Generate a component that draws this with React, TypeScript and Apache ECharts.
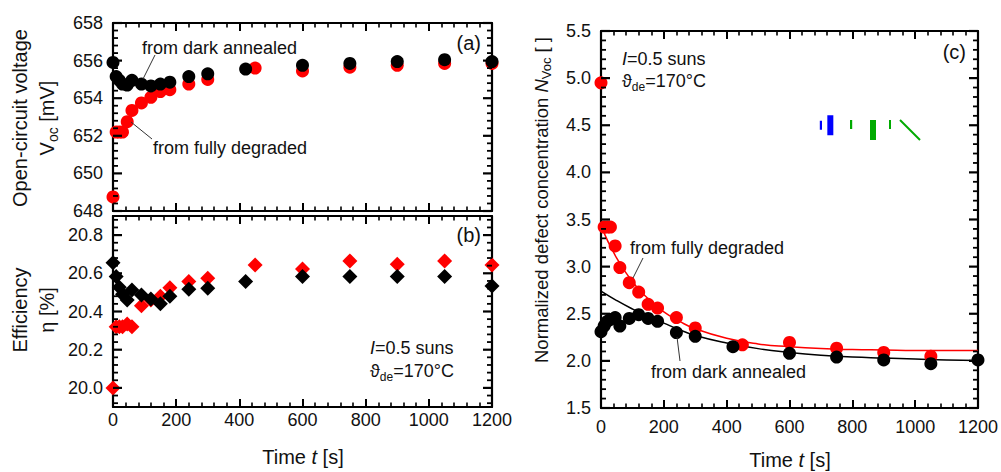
import React, { useEffect, useRef } from "react";
import * as echarts from "echarts";

// ---- data ----
const redTime = [0, 10, 20, 30, 45, 60, 90, 120, 150, 180, 240, 300, 450, 600, 750, 900, 1050, 1200];
const blackTime = [0, 10, 20, 30, 45, 60, 90, 120, 150, 180, 240, 300, 420, 600, 750, 900, 1050, 1200];

const redVoc = [648.75, 652.2, 652.2, 652.2, 652.75, 653.35, 653.75, 654.05, 654.35, 654.45, 654.75, 655.0, 655.6, 655.45, 655.65, 655.75, 655.85, 655.85];
const blackVoc = [655.9, 655.15, 654.95, 654.75, 654.7, 654.95, 654.75, 654.65, 654.75, 654.85, 655.15, 655.3, 655.55, 655.75, 655.85, 655.95, 656.05, 655.95];

const redEta = [20.0, 20.32, 20.32, 20.32, 20.335, 20.32, 20.43, 20.46, 20.48, 20.525, 20.557, 20.574, 20.644, 20.623, 20.665, 20.647, 20.665, 20.644];
const blackEta = [20.655, 20.583, 20.527, 20.49, 20.46, 20.513, 20.487, 20.465, 20.44, 20.48, 20.517, 20.522, 20.557, 20.583, 20.583, 20.583, 20.583, 20.534];

const redNTime = [0, 10, 20, 30, 45, 60, 90, 120, 150, 180, 240, 300, 450, 600, 750, 900, 1050];
const redN = [4.95, 3.42, 3.42, 3.42, 3.22, 2.99, 2.83, 2.73, 2.6, 2.56, 2.46, 2.35, 2.17, 2.195, 2.135, 2.09, 2.05];
const blackN = [2.31, 2.37, 2.42, 2.44, 2.46, 2.37, 2.45, 2.49, 2.45, 2.42, 2.3, 2.26, 2.15, 2.08, 2.04, 2.01, 1.97, 2.01];

const fitTime = [0, 50, 100, 150, 200, 250, 300, 400, 500, 600, 700, 800, 900, 1000, 1100, 1200];
const redFit = [3.43, 3.09, 2.84, 2.66, 2.52, 2.42, 2.34, 2.24, 2.18, 2.15, 2.13, 2.12, 2.115, 2.11, 2.11, 2.11];
const blackFit = [2.74, 2.64, 2.55, 2.47, 2.4, 2.33, 2.27, 2.19, 2.13, 2.09, 2.06, 2.04, 2.03, 2.02, 2.01, 2.005];

// axis ranges
const tRange = [0, 1200];
const vocRange = [648, 658];
const etaRange = [19.9, 20.9];
const nRange = [1.5, 5.5];
const etaLabels = [20.0, 20.2, 20.4, 20.6, 20.8];

const FONT = "Liberation Sans, Arial, sans-serif";
const TXT = "#111111";
const RED = "#ff0000";
const BLK = "#000000";

const zip = (xs: number[], ys: number[]) => xs.map((x, i) => [x, ys[i]]);

function steps(min: number, max: number, step: number, base: number) {
  const out: number[] = [];
  const k0 = Math.ceil((min - base) / step - 1e-6);
  for (let k = k0; base + k * step <= max + 1e-9; k++) out.push(Math.round((base + k * step) * 1e6) / 1e6);
  return out;
}
function isOn(v: number, step: number, base: number) {
  const r = (v - base) / step;
  return Math.abs(r - Math.round(r)) < 1e-6;
}

const axLine = () => ({ show: true, onZero: false, lineStyle: { color: "#000000", width: 2.2 } });

function xAxis(grid: number, position: string, showLabel: boolean, margin = 5) {
  return {
    type: "value",
    gridIndex: grid,
    position,
    min: tRange[0],
    max: tRange[1],
    interval: 200,
    axisLine: axLine(),
    axisTick: { show: true, inside: true, length: 8, lineStyle: { color: "#000", width: 2 } },
    minorTick: { show: true, splitNumber: 5, length: 4.5, lineStyle: { color: "#000", width: 1.6 } },
    axisLabel: { show: showLabel, fontSize: 18, fontFamily: FONT, color: TXT, margin, formatter: (v: number) => String(v) },
    splitLine: { show: false },
  };
}

function yAxis(grid: number, position: string, showLabel: boolean, r: number[], interval: number | undefined, fmt: (v: number) => string, custom?: number[]) {
  return {
    type: "value",
    gridIndex: grid,
    position,
    min: r[0],
    max: r[1],
    interval,
    axisLine: axLine(),
    axisTick: { show: false },
    minorTick: { show: false },
    axisLabel: { show: showLabel, customValues: custom, fontSize: 18, fontFamily: FONT, color: TXT, margin: 10, formatter: fmt },
    splitLine: { show: false },
  };
}

// tick marks drawn as thin rect symbols placed through the axes' own scales
const MAJ_LEN = 9;
const MIN_LEN = 5;
const MAJ_W = 2.2;
const MIN_W = 1.8;
function tickSeriesFor(xi: number, yi: number, xr: number[], yr: number[], yMaj: number, yMinStep: number, yBase: number) {
  const out: any[] = [];
  const ys = steps(yr[0], yr[1], yMinStep, yBase);
  const mk = (data: number[][], size: number[], offset: number[]) => ({
    type: "scatter",
    xAxisIndex: xi,
    yAxisIndex: yi,
    data,
    symbol: "rect",
    symbolSize: size,
    symbolOffset: offset,
    clip: false,
    z: 4,
    itemStyle: { color: "#000000", opacity: 1 },
    emphasis: { disabled: true },
  });
  [true, false].forEach((major) => {
    const len = major ? MAJ_LEN : MIN_LEN;
    const w = major ? MAJ_W : MIN_W;
    const yv = ys.filter((v) => isOn(v, yMaj, yBase) === major);
    out.push(mk(yv.map((v) => [xr[0], v]), [len, w], [len / 2, 0]));
    out.push(mk(yv.map((v) => [xr[1], v]), [len, w], [-len / 2, 0]));
  });
  return out;
}

const mkRich = (fs: number) => {
  const m = { fontSize: fs, fontFamily: FONT, fill: TXT, lineHeight: fs + 5 };
  const sfs = Math.round(fs * 0.68);
  return { m, i: { ...m, fontStyle: "italic" }, s: { fontSize: sfs, fontFamily: FONT, fill: TXT, verticalAlign: "bottom", lineHeight: sfs } };
};

function txt(x: number, y: number, text: string, opts: any = {}) {
  const fs = opts.fs || 18;
  return {
    type: "text",
    x,
    y,
    rotation: opts.rotation || 0,
    z: 10,
    style: {
      text,
      fontSize: fs,
      fontFamily: FONT,
      fill: TXT,
      align: opts.align || "left",
      verticalAlign: "middle",
      rich: mkRich(fs),
    },
  };
}

function leader(x1: number, y1: number, x2: number, y2: number) {
  return { type: "line", z: 10, shape: { x1, y1, x2, y2 }, style: { stroke: "#333", lineWidth: 1 } };
}

const pt = (color: string) => ({ color, opacity: 1 });

export default function App() {
  const ref = useRef<HTMLDivElement>(null);
  useEffect(() => {
    if (!ref.current) return;
    const chart = echarts.init(ref.current, undefined, { renderer: "svg" });
    const R = Math.PI / 2;
    chart.setOption({
      animation: false,
      backgroundColor: "#ffffff",
      grid: [
        { left: 113, top: 23, width: 379, height: 188 },
        { left: 113, top: 216, width: 379, height: 191 },
        { left: 601, top: 31, width: 379, height: 377 },
      ],
      xAxis: [
        xAxis(0, "bottom", false),
        xAxis(0, "top", false),
        xAxis(1, "bottom", true, 4),
        xAxis(1, "top", false),
        xAxis(2, "bottom", true, 10),
        xAxis(2, "top", false),
      ],
      yAxis: [
        yAxis(0, "left", true, vocRange, 2, (v: number) => String(v)),
        yAxis(0, "right", false, vocRange, 2, (v: number) => String(v)),
        yAxis(1, "left", true, etaRange, undefined, (v: number) => v.toFixed(1), etaLabels),
        yAxis(1, "right", false, etaRange, undefined, (v: number) => v.toFixed(1), etaLabels),
        yAxis(2, "left", true, nRange, 0.5, (v: number) => v.toFixed(1)),
        yAxis(2, "right", false, nRange, 0.5, (v: number) => v.toFixed(1)),
      ],
      series: [
        { type: "scatter", xAxisIndex: 0, yAxisIndex: 0, data: zip(redTime, redVoc), symbol: "circle", symbolSize: 13, itemStyle: pt(RED), z: 2 },
        { type: "scatter", xAxisIndex: 0, yAxisIndex: 0, data: zip(blackTime, blackVoc), symbol: "circle", symbolSize: 13, itemStyle: pt(BLK), z: 3 },
        { type: "scatter", xAxisIndex: 2, yAxisIndex: 2, data: zip(redTime, redEta), symbol: "diamond", symbolSize: 15, itemStyle: pt(RED), z: 2 },
        { type: "scatter", xAxisIndex: 2, yAxisIndex: 2, data: zip(blackTime, blackEta), symbol: "diamond", symbolSize: 15, itemStyle: pt(BLK), z: 3 },
        { type: "line", xAxisIndex: 4, yAxisIndex: 4, data: zip(fitTime, redFit), smooth: true, showSymbol: false, lineStyle: { color: RED, width: 1.5 }, z: 1 },
        { type: "line", xAxisIndex: 4, yAxisIndex: 4, data: zip(fitTime, blackFit), smooth: true, showSymbol: false, lineStyle: { color: BLK, width: 1.5 }, z: 1 },
        { type: "scatter", xAxisIndex: 4, yAxisIndex: 4, data: zip(redNTime, redN), symbol: "circle", symbolSize: 13, itemStyle: pt(RED), z: 2 },
        { type: "scatter", xAxisIndex: 4, yAxisIndex: 4, data: zip(blackTime, blackN), symbol: "circle", symbolSize: 13, itemStyle: pt(BLK), z: 3 },
        ...tickSeriesFor(0, 0, tRange, vocRange, 2, 0.4, 648),
        ...tickSeriesFor(2, 2, tRange, etaRange, 0.2, 0.04, 20.0),
        ...tickSeriesFor(4, 4, tRange, nRange, 0.5, 0.1, 1.5),
        // diagnostic marks in empty area of (c)
        { type: "scatter", xAxisIndex: 4, yAxisIndex: 4, data: [[700, 4.5]], symbol: "rect", symbolSize: [2.2, 9], itemStyle: { color: "#0000ff", opacity: 1 }, z: 5 },
        { type: "scatter", xAxisIndex: 4, yAxisIndex: 4, data: [[730, 4.5]], symbol: "rect", symbolSize: [6, 20], itemStyle: { color: "#0000ff", opacity: 1 }, z: 5 },
      ],
      graphic: [
        // axis titles
        txt(20, 118, "{m|Open-circuit voltage}", { rotation: R, align: "center", fs: 20 }),
        txt(47, 118, "{m|V}{s|oc}{m| [mV]}", { rotation: R, align: "center", fs: 20 }),
        txt(20, 310, "{m|Efficiency}", { rotation: R, align: "center", fs: 20 }),
        txt(47, 310, "{m|η [%]}", { rotation: R, align: "center", fs: 20 }),
        txt(541, 200, "{m|Normalized defect concentration }{i|N}{s|Voc}{m| [ ]}", { rotation: R, align: "center", fs: 18.5 }),
        txt(303, 457, "{m|Time }{i|t}{m| [s]}", { align: "center", fs: 20 }),
        txt(790, 460, "{m|Time }{i|t}{m| [s]}", { align: "center", fs: 20 }),
        // panel tags
        txt(481, 43, "{m|(a)}", { align: "right", fs: 20 }),
        txt(481, 235, "{m|(b)}", { align: "right", fs: 20 }),
        txt(966, 52, "{m|(c)}", { align: "right", fs: 20 }),
        // conditions
        txt(370, 348, "{i|I}{m|=0.5 suns}"),
        txt(370, 371, "{m|ϑ}{s|de}{m|=170°C}"),
        txt(622, 59, "{i|I}{m|=0.5 suns}"),
        txt(622, 81, "{m|ϑ}{s|de}{m|=170°C}"),
        // annotations
        txt(142, 48, "{m|from dark annealed}"),
        leader(155, 55, 143, 79),
        txt(153, 148, "{m|from fully degraded}"),
        leader(152, 139, 131, 122),
        txt(630, 248, "{m|from fully degraded}"),
        leader(643, 258, 633, 278),
        txt(651, 372, "{m|from dark annealed}"),
        leader(680, 361, 677, 337),
        // diagnostic graphic marks
        { type: "rect", shape: { x: 850, y: 120, width: 2.2, height: 9 }, style: { fill: "#00aa00" } },
        { type: "rect", shape: { x: 870, y: 120, width: 6, height: 20 }, style: { fill: "#00aa00" } },
        { type: "line", shape: { x1: 890, y1: 120, x2: 890, y2: 129 }, style: { stroke: "#00aa00", lineWidth: 2 } },
        { type: "line", shape: { x1: 900, y1: 120, x2: 920, y2: 140 }, style: { stroke: "#00aa00", lineWidth: 2 } },
      ],
    });
    return () => chart.dispose();
  }, []);
  return <div ref={ref} style={{ position: "fixed", left: 0, top: 0, width: 1001, height: 472 }} />;
}
